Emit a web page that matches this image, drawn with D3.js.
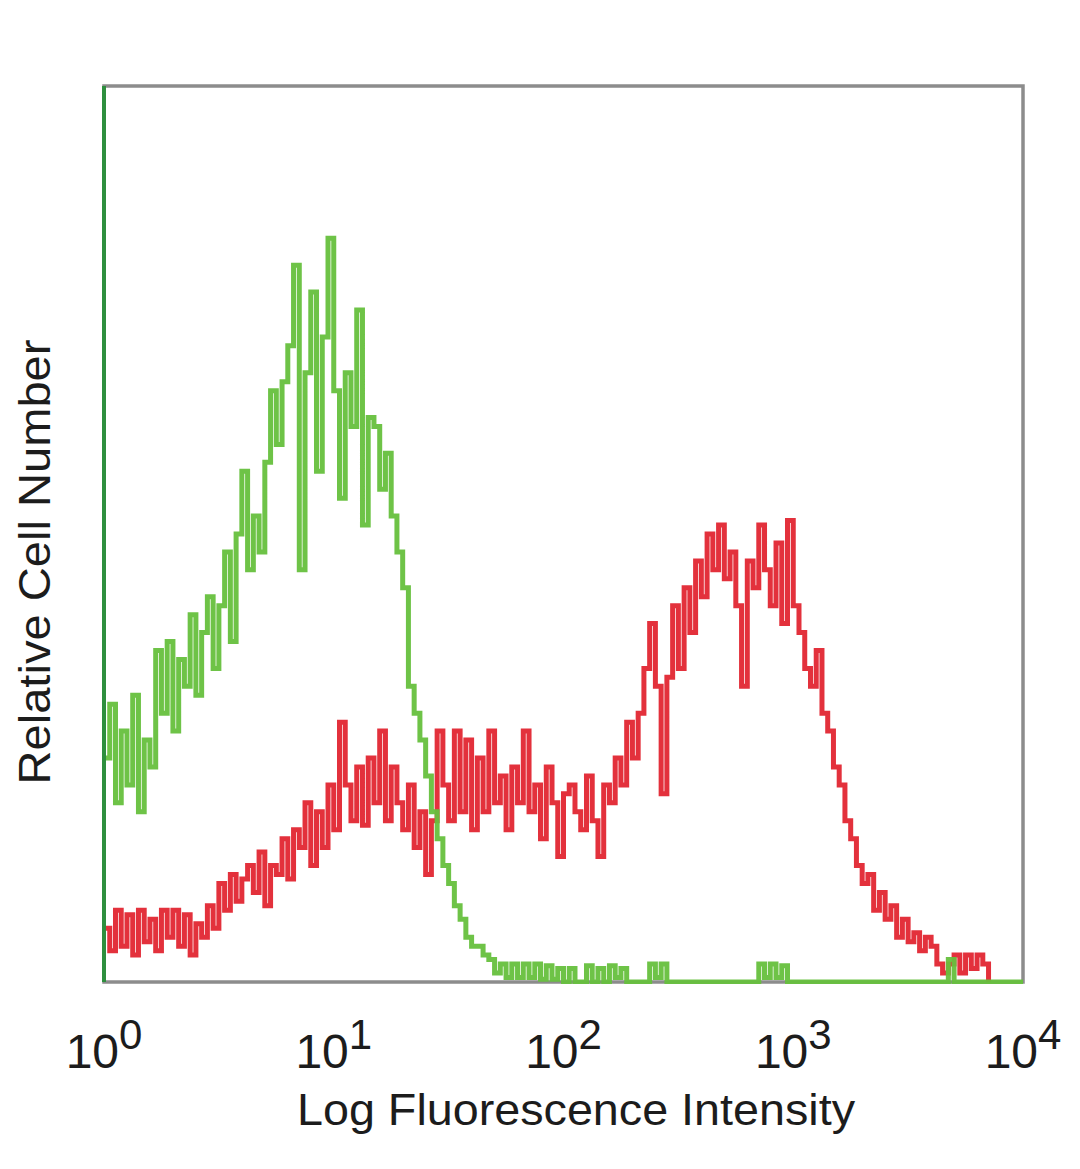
<!DOCTYPE html>
<html>
<head>
<meta charset="utf-8">
<script src="https://cdn.jsdelivr.net/npm/d3@7"></script>
<style>
  body { margin: 0; background: #fff; }
  svg { display: block; }
</style>
</head>
<body>
<div id="chart"></div>
<script>
// histogram channels, 0.025 decade per bin, starting at 10^0
let binStep = 0.025;
let tickExponents = [0, 1, 2, 3, 4];

// green: control (counts, 0-100 scale of plot height)
let greenCounts = [
  25, 31, 20, 28, 22, 32, 19, 27, 24, 37,
  30, 38, 28, 36, 33, 41, 32, 39, 43, 35,
  42, 48, 38, 50, 57, 46, 52, 48, 58, 66,
  60, 67, 71, 80, 46, 68, 77, 57, 72, 83,
  66, 54, 68, 62, 75, 51, 63, 62, 55, 59,
  52, 48, 44, 33, 30, 27, 23, 19, 16, 13,
  11, 8.5, 7, 5, 4, 4, 3, 2.5, 1, 2,
  0.5, 2, 0.5, 2, 0.5, 2, 0.3, 1.8, 0.3, 1.5,
  0, 1.5, 0, 0, 1.8, 0, 1.5, 0, 1.8, 0.5,
  1.5, 0, 0, 0, 0, 2, 0.5, 2, 0, 0,
  0, 0, 0, 0, 0, 0, 0, 0, 0, 0,
  0, 0, 0, 0, 2, 0.5, 2, 0.5, 1.8, 0,
  0, 0, 0, 0, 0, 0, 0, 0, 0, 0,
  0, 0, 0, 0, 0, 0, 0, 0, 0, 0,
  0, 0, 0, 0, 0, 0, 0, 2.5, 0, 0,
  0, 0, 0, 0, 0, 0, 0, 0, 0, 0, 0
];

// red: stained sample
let redCounts = [
  6, 3.5, 8, 4, 7.5, 3, 8, 4.5, 7, 3.5,
  8, 5, 8, 4, 7.5, 3, 6.5, 5, 8.5, 6,
  11, 8, 12, 9, 11.5, 13, 10, 14.5, 8.5, 13,
  12, 16, 11.5, 17, 15, 20, 13, 19, 15, 22,
  17, 29, 22, 18, 24, 17.5, 25, 20, 28, 18,
  24, 20, 17, 22, 15, 19, 12, 18, 28, 22,
  18, 28, 19, 27, 17, 25, 19, 28, 20, 23,
  17, 24, 20, 28, 19, 22, 16, 24, 20, 14,
  21, 22, 19, 17, 23, 18, 14, 22, 20, 25,
  22, 29, 25, 30, 35, 40, 33, 21, 34, 42,
  35, 44, 39, 47, 43, 50, 46, 51, 45, 48,
  42, 33, 47, 44, 51, 46, 42, 49, 40, 51.5,
  42, 39, 35, 33, 37, 30, 28, 24, 22, 18,
  16, 13, 11, 12, 8, 10, 7, 8.5, 5, 7,
  4.5, 5.5, 3.5, 5, 4, 2, 1, 2, 3, 1,
  3, 1.5, 3, 2, 0
];

let xTitle = "Log Fluorescence Intensity";
let yTitle = "Relative Cell Number";

let width = 1080, height = 1169;
let plot = { left: 104, right: 1023, top: 86, bottom: 982 };

let svg = d3.select("#chart").append("svg").attr("width", width).attr("height", height);

let x = d3.scaleLog().domain([1, 1e4]).range([plot.left, plot.right]);
let y = d3.scaleLinear().domain([0, 100]).range([plot.bottom, plot.top]);

svg.append("clipPath").attr("id", "plotClip")
  .append("rect").attr("x", plot.left).attr("y", plot.top - 4)
  .attr("width", plot.right - plot.left).attr("height", plot.bottom - plot.top + 6);

// frame
svg.append("rect")
  .attr("x", plot.left).attr("y", plot.top)
  .attr("width", plot.right - plot.left).attr("height", plot.bottom - plot.top)
  .attr("fill", "none").attr("stroke", "#8c8c8c").attr("stroke-width", 3.5);

let toPoints = counts => counts.map((c, i) => [Math.pow(10, i * binStep), c]);

let line = d3.line()
  .x(d => x(d[0]))
  .y(d => y(d[1]))
  .curve(d3.curveStepAfter);

let g = svg.append("g").attr("clip-path", "url(#plotClip)");

g.append("path").datum(toPoints(redCounts))
  .attr("d", line).attr("fill", "none")
  .attr("stroke", "#e11f2b").attr("stroke-width", 5).attr("stroke-opacity", 0.92);

g.append("path").datum(toPoints(greenCounts))
  .attr("d", line).attr("fill", "none")
  .attr("stroke", "#66c03d").attr("stroke-width", 5).attr("stroke-opacity", 0.95);

// left edge of the green histogram (off-scale first channel)
svg.append("line")
  .attr("x1", plot.left).attr("x2", plot.left)
  .attr("y1", plot.top).attr("y2", plot.bottom)
  .attr("stroke", "#2e8f3e").attr("stroke-width", 4);

// x tick labels as 10^n
let tickLabels = svg.append("g").attr("font-family", "'Liberation Sans', Arial, sans-serif").attr("fill", "#1c1c1c");
tickExponents.forEach(e => {
  let t = tickLabels.append("text")
    .attr("x", x(Math.pow(10, e))).attr("y", 1068)
    .attr("text-anchor", "middle");
  t.append("tspan").attr("font-size", 48).text("10");
  t.append("tspan").attr("font-size", 42).attr("dy", -19).text(e);
});

svg.append("text")
  .attr("x", 576).attr("y", 1125)
  .attr("text-anchor", "middle")
  .attr("font-family", "'Liberation Sans', Arial, sans-serif")
  .attr("font-size", 44).attr("fill", "#1c1c1c")
  .attr("textLength", 558).attr("lengthAdjust", "spacingAndGlyphs")
  .text(xTitle);

svg.append("text")
  .attr("transform", "translate(50, 562) rotate(-90)")
  .attr("text-anchor", "middle")
  .attr("font-family", "'Liberation Sans', Arial, sans-serif")
  .attr("font-size", 44).attr("fill", "#1c1c1c")
  .attr("textLength", 445).attr("lengthAdjust", "spacingAndGlyphs")
  .text(yTitle);
</script>
</body>
</html>
